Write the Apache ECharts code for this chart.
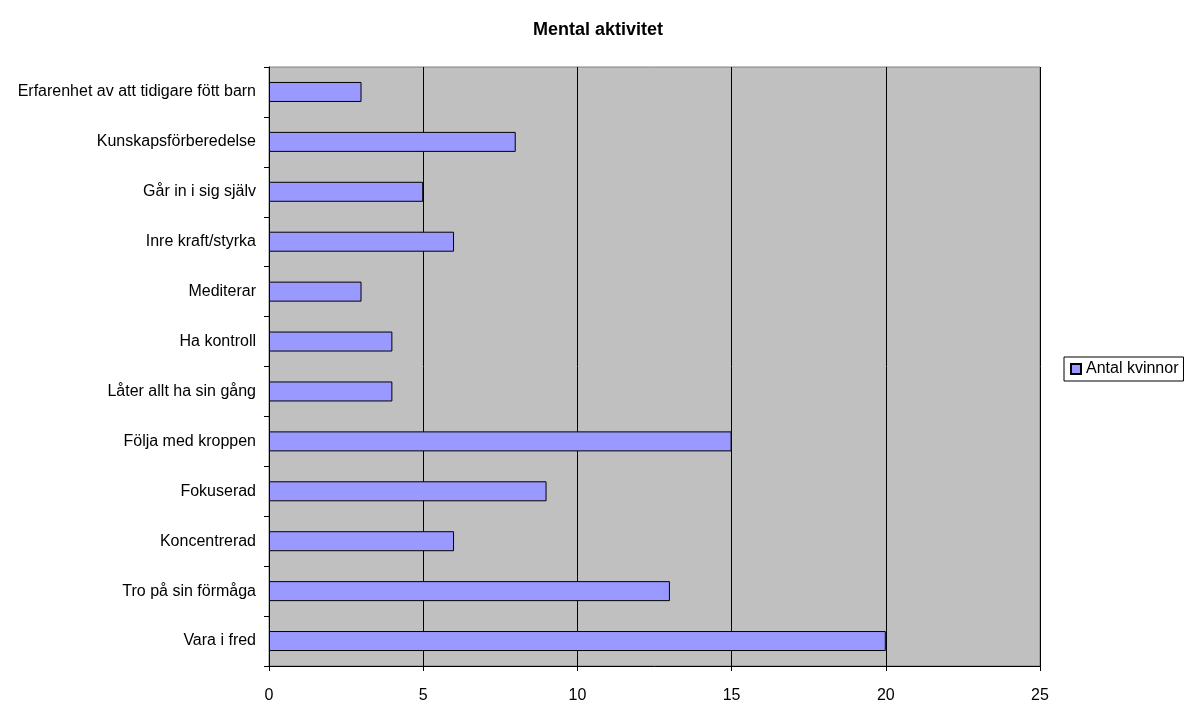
<!DOCTYPE html>
<html>
<head>
<meta charset="utf-8">
<script src="https://cdn.jsdelivr.net/npm/echarts@6/dist/echarts.min.js"></script>
<style>
  html, body { margin: 0; padding: 0; background: #fff; }
  #chart { width: 1189px; height: 704px; }
</style>
</head>
<body>
<div id="chart"></div>
<script>
// Categories listed bottom-to-top (ECharts category y-axis starts at the bottom)
const categories = [
  'Vara i fred',
  'Tro på sin förmåga',
  'Koncentrerad',
  'Fokuserad',
  'Följa med kroppen',
  'Låter allt ha sin gång',
  'Ha kontroll',
  'Mediterar',
  'Inre kraft/styrka',
  'Går in i sig själv',
  'Kunskapsförberedelse',
  'Erfarenhet av att tidigare fött barn'
];
const antalKvinnor = [20, 13, 6, 9, 15, 4, 4, 3, 6, 5, 8, 3];
const seriesName = 'Antal kvinnor';
const chartTitle = 'Mental aktivitet';

const font = 'Liberation Sans, Arial, sans-serif';
const chart = echarts.init(document.getElementById('chart'));
chart.setOption({
  animation: false,
  backgroundColor: '#ffffff',
  title: {
    text: chartTitle,
    left: 593, top: 16, textAlign: 'center',
    textStyle: { fontFamily: font, fontSize: 18, fontWeight: 'bold', color: '#000' }
  },
  legend: {
    data: [seriesName],
    left: 1064, top: 357,
    orient: 'vertical',
    padding: [4, 5, 4, 6],
    itemGap: 0,
    itemWidth: 10, itemHeight: 10,
    borderColor: '#000', borderWidth: 1,
    icon: 'rect',
    textStyle: { fontFamily: font, fontSize: 16, color: '#000' }
  },
  grid: {
    left: 269, right: 149, top: 67, bottom: 31,
    show: true,
    backgroundColor: '#c0c0c0',
    borderColor: '#808080', borderWidth: 1,
    containLabel: false
  },
  xAxis: {
    type: 'value',
    min: 0, max: 25, interval: 5,
    axisLine: { show: true, lineStyle: { color: '#000', width: 1 } },
    axisTick: { show: true, length: 5, lineStyle: { color: '#000' } },
    axisLabel: { fontFamily: font, fontSize: 16, color: '#000', margin: 22 },
    splitLine: { show: true, lineStyle: { color: '#000', width: 1 } }
  },
  yAxis: {
    type: 'category',
    data: categories,
    axisLine: { show: true, lineStyle: { color: '#000', width: 1 } },
    axisTick: { show: true, length: 5, alignWithLabel: false, lineStyle: { color: '#000' } },
    axisLabel: { fontFamily: font, fontSize: 16, color: '#000', margin: 13 },
    splitLine: { show: false }
  },
  series: [{
    name: seriesName,
    type: 'bar',
    data: antalKvinnor,
    barWidth: 20,
    itemStyle: { color: '#9999ff', borderColor: '#000', borderWidth: 1 }
  }]
});
</script>
</body>
</html>
